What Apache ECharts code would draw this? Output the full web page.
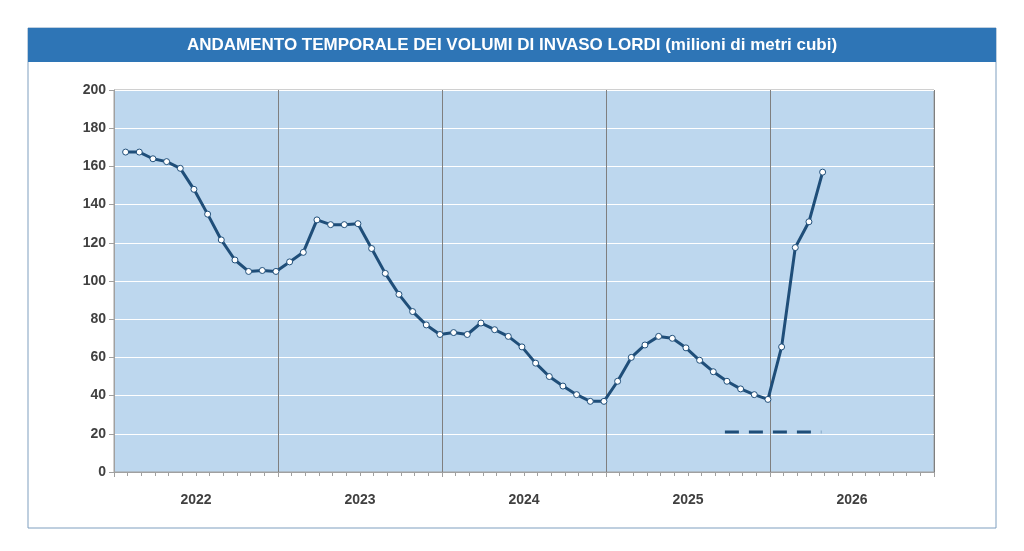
<!DOCTYPE html><html><head><meta charset="utf-8">
<script src="https://cdn.jsdelivr.net/npm/echarts@6/dist/echarts.min.js"></script>
<style>html,body{margin:0;background:#fff}#wrap{position:relative;width:1024px;height:551px}
#bg{position:absolute;left:114px;top:90px;width:820px;height:382px;background:#bdd7ee}
#c{position:absolute;left:0;top:0;width:1024px;height:551px}</style></head><body><div id="wrap"><div id="bg"></div><div id="c"></div></div><script>
const years=['2022','2023','2024','2025','2026'];
const volumes=[167.5,167.5,164,162.5,159,148,135,121.5,111,105,105.5,105,
110,115,132,129.5,129.5,130,117,104,93,84,77,72,
73,72,78,74.5,71,65.5,57,50,45,40.5,37,37,
47.5,60,66.5,71,70,65,58.5,52.5,47.5,43.5,40.5,38,
65.5,117.5,131,157];
const dashStart=44.7, dashEnd=51.75, dashValue=21;
const offset=0.85;
const chart=echarts.init(document.getElementById('c'),null,{renderer:'canvas'});
chart.setOption({
 animation:false,
 backgroundColor:'transparent',
 graphic:[
  {type:'rect',shape:{x:28,y:28,width:968,height:500},style:{fill:'none',stroke:'#7f9fbf',lineWidth:1}},
  {type:'rect',shape:{x:28,y:28,width:968,height:34},style:{fill:'#2e75b6'}},
  {type:'text',x:512,y:45,style:{text:'ANDAMENTO TEMPORALE DEI VOLUMI DI INVASO LORDI (milioni di metri cubi)',fill:'#fff',font:'bold 17px "Liberation Sans", Arial',align:'center',verticalAlign:'middle'}}
 ],
 grid:{left:114,right:90,top:90,bottom:79,show:true,borderColor:'#a0a0a0',borderWidth:1},
 xAxis:[
  {type:'value',min:0,max:60,interval:12,axisLabel:{show:false},axisLine:{show:true,lineStyle:{color:'#a0a0a0'}},
   axisTick:{show:true,length:5,lineStyle:{color:'#a0a0a0'}},minorTick:{show:true,splitNumber:12,length:4,lineStyle:{color:'#a0a0a0'}},
   splitLine:{show:true,lineStyle:{color:'#7f7f7f',width:1}}},
  {type:'category',data:years,position:'bottom',axisLine:{show:false},axisTick:{show:false},
   axisLabel:{color:'#404040',fontWeight:'bold',fontSize:14,margin:21,fontFamily:'Liberation Sans'}}
 ],
 yAxis:{type:'value',min:0,max:200,interval:20,axisLine:{show:true,lineStyle:{color:'#a0a0a0'}},axisTick:{show:true,lineStyle:{color:'#a0a0a0'}},
  axisLabel:{color:'#404040',fontWeight:'bold',fontSize:14,fontFamily:'Liberation Sans'},splitLine:{lineStyle:{color:'#ffffff',width:1}}},
 series:[
  {type:'line',xAxisIndex:0,data:volumes.map((v,i)=>[i+offset,v]),symbol:'circle',symbolSize:6,
   lineStyle:{color:'#1f4e79',width:3},itemStyle:{color:'#fff',borderColor:'#1f4e79',borderWidth:1}},
  {type:'line',xAxisIndex:0,data:[[dashStart,dashValue],[dashEnd,dashValue]],symbol:'none',
   lineStyle:{color:'#1f4e79',width:3,type:[14,10]}}
 ]
});
</script></body></html>
